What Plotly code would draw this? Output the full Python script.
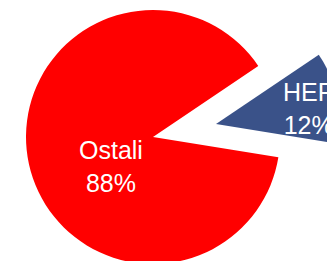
import plotly.graph_objects as go

labels = ["HEP", "Ostali"]
values = [12, 88]
colors = ["#3A5289", "#FF0000"]

W, H = 345, 270

def box(cx, cy, r):
    return dict(x=[(cx - r) / W, (cx + r) / W],
                y=[1 - (cy + r) / H, 1 - (cy - r) / H])

def px(x, y):
    return x / W, 1 - y / H

clear = "rgba(0,0,0,0)"
fig = go.Figure()
# main pie (Ostali visible)
fig.add_trace(go.Pie(labels=labels, values=values, sort=False,
                     direction="clockwise", rotation=56,
                     marker=dict(colors=[clear, colors[1]]),
                     textinfo="none", hoverinfo="skip", showlegend=False,
                     domain=box(153, 137, 127)))
# exploded slice (HEP visible)
fig.add_trace(go.Pie(labels=labels, values=values, sort=False,
                     direction="clockwise", rotation=56,
                     marker=dict(colors=[colors[0], clear]),
                     textinfo="none", hoverinfo="skip", showlegend=False,
                     domain=box(216, 124, 124)))

pos = {"Ostali": (111, 166), "HEP": (308, 108)}
for lab, val in zip(labels, values):
    x, y = px(*pos[lab])
    fig.add_annotation(x=x, y=y, xref="paper", yref="paper",
                       text=f"{lab}<br>{val}%", showarrow=False,
                       font=dict(family="Liberation Sans, Arial", size=25, color="white"),
                       align="center", xanchor="center", yanchor="middle")

fig.update_layout(width=W, height=H, margin=dict(l=0, r=0, t=0, b=0),
                  paper_bgcolor="white", plot_bgcolor="white")
fig.write_html("out.html", config={"displayModeBar": False},
               post_script="document.body.style.margin='0px';")
